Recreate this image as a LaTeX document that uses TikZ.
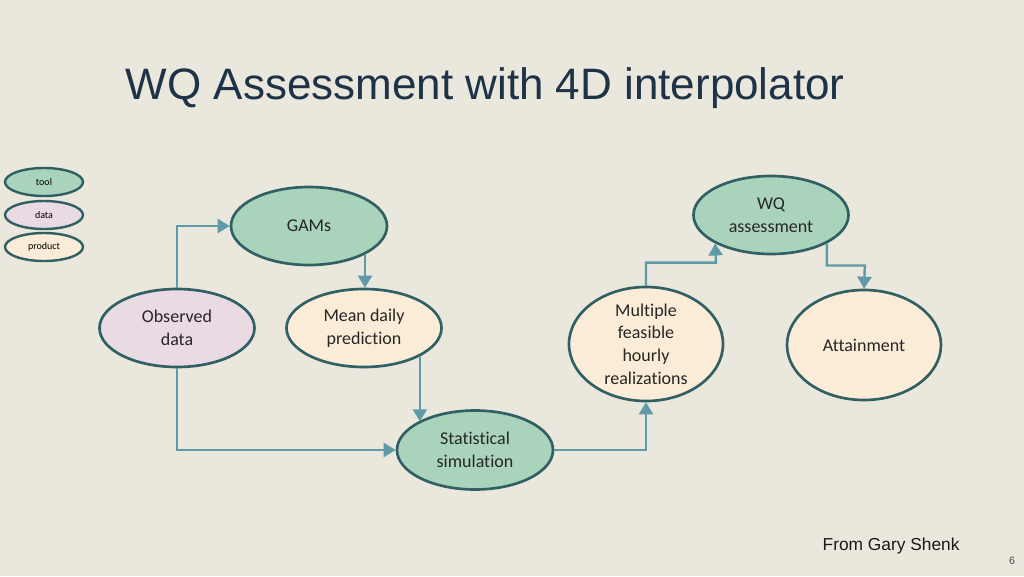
\documentclass[tikz,border=0pt]{standalone}
\usepackage{fontspec}
\setmainfont{Carlito}[Ligatures=NoCommon]
\newfontfamily\titlefont{Liberation Sans}
\usetikzlibrary{shapes.geometric, arrows.meta}

\definecolor{slidebg}{RGB}{234,231,221}
\definecolor{tealline}{RGB}{49,96,100}
\definecolor{arrowblue}{RGB}{94,154,168}
\definecolor{toolfill}{RGB}{170,211,188}
\definecolor{datafill}{RGB}{233,218,228}
\definecolor{prodfill}{RGB}{250,236,214}
\definecolor{titleblue}{RGB}{30,50,72}

\tikzset{
  bubble/.style={ellipse, draw=tealline, line width=2pt, inner sep=0pt,
    align=center, font=\fontsize{13.5}{17}\selectfont, text=black!85},
  tool/.style={bubble, fill=toolfill},
  data/.style={bubble, fill=datafill},
  product/.style={bubble, fill=prodfill},
  legend/.style={ellipse, draw=tealline, line width=1.8pt, inner sep=0pt,
    minimum width=58.5pt, minimum height=21pt, font=\fontsize{7.5}{9}\selectfont},
  flow/.style={draw=arrowblue, line width=1.8pt,
    -{Triangle[length=9pt, width=10.5pt]}}
}

\begin{document}
\begin{tikzpicture}[x=0.75pt, y=-0.75pt]
    \fill [slidebg] (0,0) rectangle (1024,576);
    \useasboundingbox (0,0) rectangle (1024,576);

    \node (title) [anchor=west, text=titleblue, font=\titlefont\fontsize{33}{40}\selectfont]
      at (121,88) {WQ Assessment with 4D interpolator};

    % legend
    \node (ltool) [legend, fill=toolfill] at (44,182) {tool};
    \node (ldata) [legend, fill=datafill] at (44,215) {data};
    \node (lprod) [legend, fill=prodfill] at (44,247) {product};

    % bubbles
    \node (gams) [tool, minimum width=117pt, minimum height=58.5pt] at (309,226) {GAMs};
    \node (obs) [data, minimum width=116.25pt, minimum height=58.5pt] at (177,328) {Observed\\data};
    \node (mean) [product, minimum width=116.25pt, minimum height=58.5pt] at (364,328) {Mean daily\\prediction};
    \node (stat) [tool, minimum width=117pt, minimum height=59.25pt] at (475,450) {Statistical\\simulation};
    \node (multi) [product, minimum width=115.5pt, minimum height=81.75pt] at (646,344) {Multiple\\feasible\\hourly\\realizations};
    \node (wq) [tool, minimum width=116.25pt, minimum height=58.5pt] at (771,215) {WQ\\assessment};
    \node (attain) [product, minimum width=115.5pt, minimum height=82.5pt] at (864,345) {Attainment};

    % connectors
    \draw [flow] (obs.north) |- (gams.west);
    \draw [flow] (gams.-27) -- (gams.-27 |- mean.north);
    \draw [flow] (mean.-27) -- (mean.-27 |- stat.153);
    \draw [flow] (obs.south) |- (stat.west);
    \draw [flow] (stat.east) -| (multi.south);
    \draw [flow] (multi.north) |- ++(70,-23) -- (wq.207);
    \draw [flow] (wq.-27) |- ++(38,22) -- (attain.north);

    % footer
    \node (credit) [anchor=west, font=\titlefont\fontsize{13}{16}\selectfont, text=black!90]
      at (818,546) {From Gary Shenk};
    \node (page) [font=\titlefont\fontsize{8}{10}\selectfont, text=black!70] at (1012,561) {6};
\end{tikzpicture}
\end{document}
